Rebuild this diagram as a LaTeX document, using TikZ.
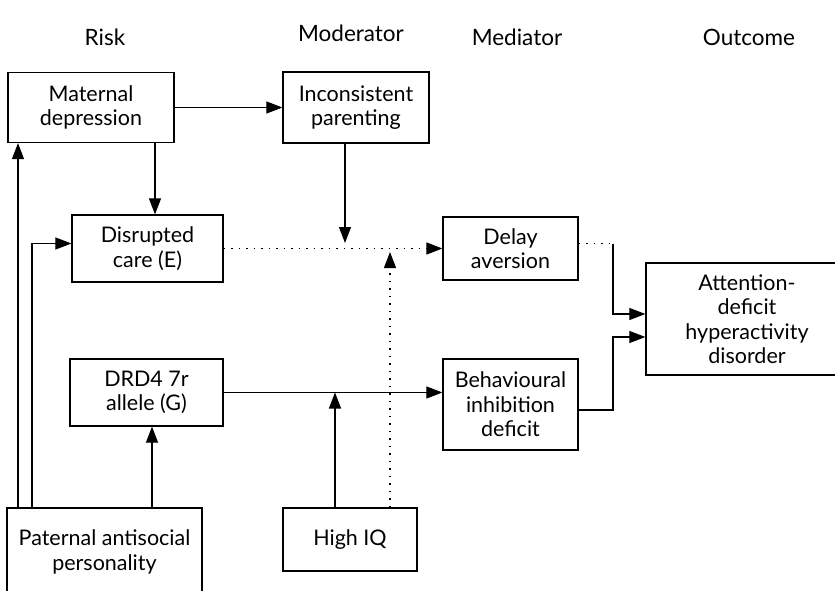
\documentclass[tikz,border=0pt]{standalone}
\usepackage{fontspec}
\setmainfont{Lato}
\usetikzlibrary{arrows.meta}
\begin{document}
\begin{tikzpicture}[x=1pt,y=-1pt,
  box/.style={draw, line width=1.2pt, align=center, inner sep=0pt, font=\fontsize{21.5}{24.5}\selectfont},
  head/.style={font=\fontsize{22.5}{24}\selectfont, inner sep=0pt},
  conn/.style={line width=1.1pt},
  arr/.style={conn, -{Triangle[length=16pt,width=12pt]}},
  dots/.style={line width=1.2pt, dash pattern=on 1.5pt off 6pt}
]
\useasboundingbox (0,0) rectangle (835,591);
% headers
\node[head] (hrisk) at (105,37) {Risk};
\node[head] (hmod) at (351,33) {Moderator};
\node[head] (hmed) at (517,37) {Mediator};
\node[head] (hout) at (749,37) {Outcome};
% boxes
\node[box, minimum width=166, minimum height=70] (md) at (91,107.5) {Maternal\\depression};
\node[box, minimum width=146, minimum height=71] (ip) at (356,107.5) {Inconsistent\\parenting};
\node[box, minimum width=151, minimum height=67] (dc) at (147.5,248.5) {Disrupted\\care (E)};
\node[box, minimum width=135, minimum height=63] (da) at (510.5,248.5) {Delay\\aversion};
\node[box, minimum width=202, minimum height=112] (adhd) at (747,319) {Attention-\\deficit\\hyperactivity\\disorder};
\node[box, minimum width=135, minimum height=91] (bid) at (510.5,404.5) {Behavioural\\inhibition\\deficit};
\node[box, minimum width=153, minimum height=67] (drd) at (146.5,392.5) {DRD4 7r\\allele (G)};
\node[box, minimum width=195, minimum height=88] (pap) at (104.5,552) {Paternal antisocial\\personality};
\node[box, minimum width=134, minimum height=63] (hiq) at (350,539.5) {High IQ};
% helper coordinates
\coordinate (xr) at (613,0);
\coordinate (j1) at (345,243);
\coordinate (j2) at (390,252);
% connectors
\draw[arr] (md.east) -- (ip.west);
\draw[arr] (155,0 |- md.south) -- (155,0 |- dc.north);
\draw[arr] (345,0 |- ip.south) -- (j1);
\draw[dots, -{Triangle[length=16pt,width=12pt]}] (dc.east) -- (da.west);
\draw[dots] (390,0 |- hiq.north) -- (390,262);
\draw[arr] (390,262) -- (j2);
\draw[arr] (18,0 |- pap.north) -- (18,0 |- md.south);
\draw[arr] (32,0 |- pap.north) |- ([yshift=5pt]dc.west);
\draw[arr] (152,0 |- pap.north) -- (152,0 |- drd.south);
\draw[arr] (drd.east) -- (drd.east -| bid.west);
\draw[arr] (335,0 |- hiq.north) -- (335,0 |- drd.east);
\draw[dots] ([yshift=5pt]da.east) -- ([yshift=5pt]da.east -| xr);
\draw[arr] ([yshift=5pt]da.east -| xr) |- ([yshift=5pt]adhd.west);
\draw[arr] ([yshift=-5.5pt]bid.east) -| (xr |- 0,337) -- ([yshift=-18pt]adhd.west);
\end{tikzpicture}
\end{document}
